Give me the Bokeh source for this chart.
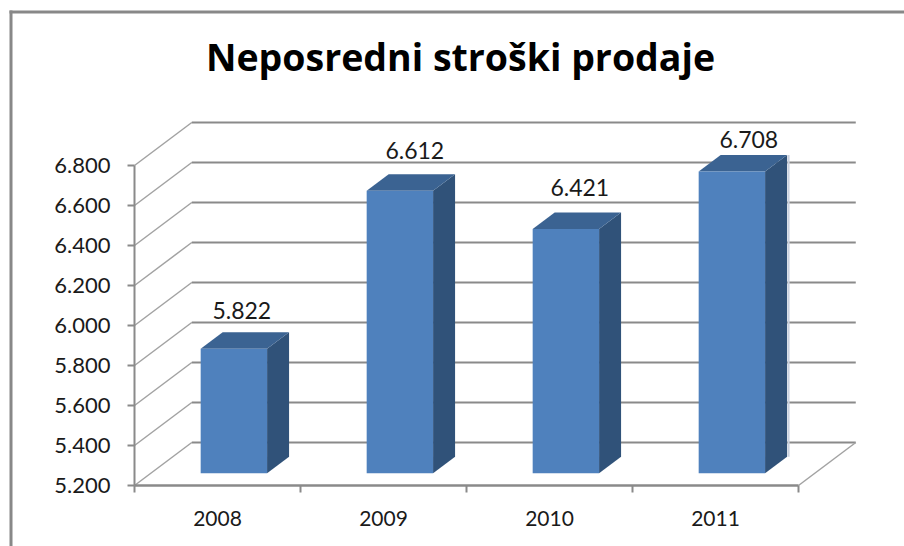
from bokeh.embed import file_html
from bokeh.resources import INLINE
from bokeh.plotting import figure
from bokeh.models import ColumnDataSource, FixedTicker, LinearAxis, BoxAnnotation, Range1d, Label
from bokeh.core.properties import value

title = "Neposredni stroški prodaje"
categories = ["2008", "2009", "2010", "2011"]
values = [5822, 6612, 6421, 6708]
value_labels = ["5.822", "6.612", "6.421", "6.708"]
y_ticks = [5200, 5400, 5600, 5800, 6000, 6200, 6400, 6600, 6800]
y_tick_labels = ["5.200", "5.400", "5.600", "5.800", "6.000", "6.200", "6.400", "6.600", "6.800"]

FONT = "Lato"
GRID = "#8a8a8a"
SLANT = "#a2a2a2"
FRONT = "#4F81BD"
SIDE = "#305279"
TOP = "#3B6392"

# scale of the page: pixels per category and per value unit; the origin sits at (134, 485)
PX_X, PX_Y = 166, 0.2
OX, OY = 134, 485
W, H = 904, 546

# oblique projection: the back wall, as an offset in data units
DX, DY = 0.345, 215
D0, D1 = 0.286, 0.67     # bar front and back, as a share of the depth
BW = 0.4                 # bar width
label_lift = [-22, -24, -25, -16]
label_shift = [-7, 0, -1, 2]

p = figure(width=W, height=H, output_backend="svg", toolbar_location=None,
           x_axis_type=None, y_axis_type=None,
           x_range=Range1d(-OX / PX_X, (W - OX) / PX_X),
           y_range=Range1d(y_ticks[0] - (H - OY) / PX_Y, y_ticks[0] + OY / PX_Y),
           min_border=0, min_border_left=0, min_border_right=0, min_border_top=0, min_border_bottom=0)
p.outline_line_color = None
p.grid.visible = False
p.background_fill_color = "white"
p.border_fill_color = "white"

n = len(categories)
# walls
for t in y_ticks:
    p.line([0, DX], [t, t + DY], line_color=SLANT, line_width=1.5)
    p.line([DX, n + DX], [t + DY, t + DY], line_color=GRID, line_width=2)
p.line([n, n + DX], [y_ticks[0], y_ticks[0] + DY], line_color=SLANT, line_width=1.5)

# bars
base = y_ticks[0]
x0 = [i + 0.3 + D0 * DX for i in range(n)]
x1 = [a + BW for a in x0]
b0 = base + D0 * DY
t0 = [v + D0 * DY for v in values]
sdx = (D1 - D0) * DX
sdy = (D1 - D0) * DY

# the faint edge behind the last bar
p.line([x1[-1] + sdx + 0.009] * 2, [b0 + sdy, t0[-1] + sdy], line_color="#c9d1df", line_width=2)

p.patches([[a, a + sdx, a + sdx, a] for a in x1],
          [[b0, b0 + sdy, t + sdy, t] for t in t0],
          fill_color=SIDE, line_color=None)
p.patches([[a, b, b + sdx, a + sdx] for a, b in zip(x0, x1)],
          [[t, t, t + sdy, t + sdy] for t in t0],
          fill_color=TOP, line_color=None)
p.quad(left=x0, right=x1, bottom=[b0] * n, top=t0, fill_color=FRONT, line_color=None)

# value labels
src = ColumnDataSource(dict(x=[a + BW / 2 + 0.09 for a in x0],
                            y=[t + sdy for t in t0], t=value_labels, off=label_lift, sh=label_shift))
p.text("x", "y", text="t", x_offset="sh", y_offset="off", source=src, text_align="center", text_baseline="middle",
       text_font=value(FONT), text_font_size="23px", text_color="#1a1a1a")

# axes
p.line([0, 0], [y_ticks[0], y_ticks[-1]], line_color=GRID, line_width=2)
p.line([0, n], [y_ticks[0], y_ticks[0]], line_color=GRID, line_width=2.5)

ya = LinearAxis(ticker=FixedTicker(ticks=y_ticks), fixed_location=0,
                major_label_overrides={t: s for t, s in zip(y_ticks, y_tick_labels)})
ya.axis_line_color = None
ya.major_tick_line_color = GRID
ya.major_tick_line_width = 2
ya.major_tick_in = 0
ya.major_tick_out = 7
ya.minor_tick_out = 0
ya.minor_tick_in = 0
ya.major_label_standoff = 17
ya.major_label_text_font = FONT
ya.major_label_text_font_size = "22px"
ya.major_label_text_color = "#1a1a1a"
p.add_layout(ya, "left")

centers = [i + 0.5 for i in range(n)]
xa = LinearAxis(ticker=FixedTicker(ticks=centers, minor_ticks=list(range(n + 1))), fixed_location=y_ticks[0],
                major_label_overrides={c: s for c, s in zip(centers, categories)})
xa.axis_line_color = None
xa.major_tick_in = 0
xa.major_tick_out = 0
xa.major_tick_line_color = None
xa.minor_tick_in = 0
xa.minor_tick_out = 7
xa.minor_tick_line_color = GRID
xa.minor_tick_line_width = 2
xa.major_label_standoff = 18
xa.major_label_text_font = FONT
xa.major_label_text_font_size = "21px"
xa.major_label_text_color = "#1a1a1a"
p.add_layout(xa, "below")

# title, centred over the page at the scale above
p.add_layout(Label(x=(460 - OX) / PX_X, y=y_ticks[0] + (OY - 56) / PX_Y, text=title,
                   text_align="center", text_baseline="middle", text_font="Open Sans",
                   text_font_style="bold", text_font_size="37.5px", text_color="#000000"))

# chart frame lines (screen y counts up from the bottom of the page)
for l, r, t, b in [(9, 12, H - 10, 0), (9, W, H - 10, H - 13)]:
    p.add_layout(BoxAnnotation(left=l, right=r, top=t, bottom=b, left_units="screen", right_units="screen",
                               top_units="screen", bottom_units="screen", fill_color="#888888", fill_alpha=1,
                               line_alpha=0))

open("out.html", "w").write(file_html(p, INLINE))
